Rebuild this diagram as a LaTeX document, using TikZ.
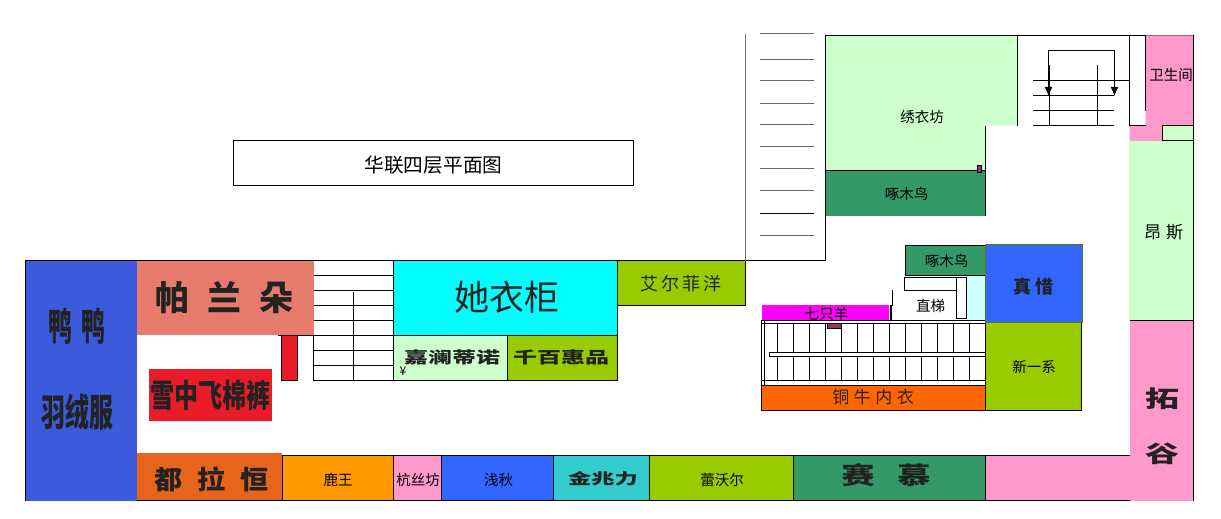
\documentclass[tikz,border=0pt]{standalone}
\usepackage{fontspec}
\usetikzlibrary{arrows.meta}
\setmainfont{Noto Sans CJK SC}
\definecolor{lightgreen}{HTML}{CCFFCC}
\definecolor{leaf}{HTML}{99CC00}
\definecolor{seagreen}{HTML}{339966}
\definecolor{rose}{HTML}{FF99CC}
\definecolor{royal}{HTML}{3366FF}
\definecolor{duckblue}{HTML}{3B5ADC}
\definecolor{salmon}{HTML}{E77C6C}
\definecolor{rust}{HTML}{E8641A}
\definecolor{flag}{HTML}{EA1C2A}
\definecolor{teal}{HTML}{33CCCC}
\definecolor{plum}{HTML}{993366}
\definecolor{ink}{HTML}{222222}
\definecolor{aqua}{HTML}{00FFFF}
\definecolor{fuchsia}{HTML}{FF00FF}
\definecolor{amber}{HTML}{FF9900}
\definecolor{tangerine}{HTML}{FF6600}
\definecolor{pale}{HTML}{CCFFFF}
\newcommand{\squeezed}[2]{\scalebox{#1}[1]{#2}}
\newcommand{\sized}[1]{\fontsize{#1}{#1}\selectfont}
\tikzset{
	wall/.style={line width=1pt, color=black},
	shop/.style={fill=#1, draw=black, line width=1pt},
	tread/.style={line width=1pt, color=black!60},
	small/.style={inner sep=0pt, text=black, font=\sized{14.5}},
	big/.style={inner sep=0pt, text=ink, font=\sized{#1}\bfseries},
	tip/.style={-{Latex[length=9pt, width=8pt]}},
}

\begin{document}
\begin{tikzpicture}[x=1pt, y=-1pt]
	\useasboundingbox (0, 0) rectangle (1221, 519);

	%%%%% title
	\draw[wall] (233, 140.5) rectangle (633, 185.5);
	\node[small, font=\sized{19.7}] (title) at (433.5, 165) {华联四层平面图};

	%%%%% left wing
	\draw[wall] (25.5, 260.5) -- (745, 260.5);
	\fill[duckblue] (25.5, 260.5) rectangle (137, 501);
	\draw[wall] (25.5, 260) -- (25.5, 501);
	\fill[salmon] (137, 261) rectangle (314, 335);
	\draw[wall] (278, 335.5) -- (393, 335.5);
	\draw[shop=flag] (281.5, 335.5) rectangle (297.5, 380.5);
	\fill[flag] (149, 369) rectangle (272, 421);
	\fill[rust] (137, 453) rectangle (282, 500.5);
	\draw[wall] (137, 500.5) -- (282, 500.5);

	\node[big=38] (yaya) at (77, 326.5) {\squeezed{0.63}{鸭\hspace{14pt}鸭}};
	\node[big=38] (yurong) at (77.5, 413) {\squeezed{0.63}{羽绒服}};
	\node[big=34] (palan) at (224.5, 298) {帕\hspace{18pt}兰\hspace{18pt}朵};
	\node[big=32] (xuezhong) at (210, 395) {\squeezed{0.75}{雪中飞棉裤}};
	\node[big=26] (dula) at (211.5, 479) {\squeezed{1.08}{都\hspace{14pt}拉\hspace{14pt}恒}};

	%%%%% stairs beside the red box
	\foreach \y in {275.5, 290.5, 305.5, 320.5, 335.5, 350.5, 365.5, 380.5}
		\draw[wall] (314, \y) -- (393, \y);
	\draw[wall] (313.5, 335) -- (313.5, 380.5);
	\draw[wall] (353.5, 292) -- (353.5, 380.5);

	%%%%% middle shops
	\draw[shop=aqua] (393.5, 260.5) rectangle (617.5, 335.5);
	\draw[shop=lightgreen] (393.5, 335.5) rectangle (507, 380.5);
	\draw[shop=leaf] (507, 335.5) rectangle (617.5, 380.5);
	\draw[shop=leaf] (617.5, 260.5) rectangle (745.5, 305.5);
	\fill[lightgreen] (394, 336) rectangle (507, 380);
	\node[big=35, font=\sized{35}] (tayi) at (507, 297) {她衣柜};
	\node[big=16] (jialan) at (452, 357) {\squeezed{1.5}{嘉澜蒂诺}};
	\node[big=16] (qianbai) at (561, 357) {\squeezed{1.5}{千百惠品}};
	\node[small, font=\sized{12}] (yen) at (403, 371) {¥};
	\node[big=18, font=\sized{18}] (aier) at (681, 284) {艾\hspace{3pt}尔\hspace{3pt}菲\hspace{3pt}洋};

	%%%%% bottom row
	\draw[shop=amber] (282, 455.5) rectangle (393.5, 500.5);
	\draw[shop=rose] (393.5, 455.5) rectangle (441.5, 500.5);
	\draw[shop=royal] (441.5, 455.5) rectangle (553.5, 500.5);
	\draw[shop=teal] (553.5, 455.5) rectangle (649.5, 500.5);
	\draw[shop=leaf] (649.5, 455.5) rectangle (793.5, 500.5);
	\draw[shop=seagreen] (793.5, 455.5) rectangle (985.5, 500.5);
	\fill[rose] (985.5, 456) rectangle (1131, 500);
	\draw[wall] (985.5, 455.5) -- (1131, 455.5);
	\draw[wall] (985.5, 500.5) -- (1131, 500.5);
	\node[small] (luwang) at (338, 480) {鹿王};
	\node[small] (hangsi) at (418, 480) {杭丝坊};
	\node[small] (qianqiu) at (498.5, 480) {浅秋};
	\node[big=15] (jinzhao) at (603, 479) {\squeezed{1.55}{金兆力}};
	\node[small] (leiwo) at (722, 480) {蕾沃尔};
	\node[big=24] (saimu) at (886, 475) {\squeezed{1.4}{赛\hspace{16pt}慕}};

	%%%%% big stairs, upper middle
	\draw[wall, color=black!55] (745.5, 34) -- (745.5, 260.5);
	\draw[wall] (745.5, 260.5) -- (825.5, 260.5) -- (825.5, 35.5);
	\foreach \y in {34, 59.5, 81, 103, 124, 146, 168, 190.5, 235.5}
		\draw[tread] (760, \y) -- (814, \y);
	\draw[wall] (759.5, 213.5) -- (813.5, 213.5);

	%%%%% upper shops
	\fill[lightgreen] (825.5, 35.5) -- (1018, 35.5) -- (1018, 125.5) -- (985.5, 125.5) -- (985.5, 170.5) -- (825.5, 170.5) -- cycle;
	\fill[seagreen] (825.5, 170.5) rectangle (985.5, 216);
	\draw[wall] (825.5, 35.5) -- (1193.5, 35.5);
	\draw[wall] (825.5, 35) -- (825.5, 260.5);
	\draw[wall] (825.5, 170.5) -- (985.5, 170.5);
	\draw[wall] (985.5, 125.5) -- (985.5, 216);
	\draw[wall] (1017.5, 35) -- (1017.5, 125.5);
	\draw[shop=plum] (977.5, 165.5) rectangle (981.5, 172);
	\node[small] (xiuyi) at (922, 117) {绣衣坊};
	\node[small] (zhuomu) at (906.5, 194) {啄木鸟};

	%%%%% stairs at the top right
	\foreach \y in {95.5, 110.5, 125.5}
		\draw[wall] (1033, \y) -- (1114, \y);
	\draw[wall] (1033, 80.5) -- (1129.5, 80.5);
	\draw[wall] (1049.5, 65) -- (1049.5, 125.5);
	\draw[wall] (1097.5, 65) -- (1097.5, 125.5);
	\coordinate (railmid) at (1048.5, 50.5);
	\coordinate (railend) at (1114.5, 50.5);
	\coordinate (tipleft) at (1048.5, 96);
	\coordinate (tipright) at (1114.5, 96);
	\draw[wall, tip] (railmid) -- (tipleft);
	\draw[wall, tip] (railmid) -- (railend) -- (tipright);

	%%%%% right column
	\fill[rose] (1145.5, 35.5) -- (1193.5, 35.5) -- (1193.5, 125.5) -- (1162, 125.5) -- (1162, 141) -- (1129.5, 141) -- (1129.5, 125.5) -- (1145.5, 125.5) -- cycle;
	\draw[wall] (1129.5, 35.5) -- (1129.5, 125.5) -- (1145.5, 125.5);
	\draw[wall] (1145.5, 35.5) -- (1145.5, 111);
	\draw[shop=lightgreen] (1162, 125.5) rectangle (1193.5, 140.5);
	\fill[lightgreen] (1129, 141) rectangle (1193, 320);
	\fill[rose] (1130, 320.5) rectangle (1193, 501);
	\draw[wall] (1129.5, 320.5) -- (1193.5, 320.5);
	\draw[wall] (1193.5, 35) -- (1193.5, 501);
	\node[small] (weisheng) at (1171, 75) {卫生间};
	\node[small, font=\sized{17}] (angsi) at (1163.5, 232) {昂\hspace{5pt}斯};
	\node[big=23] (tuo) at (1163, 399) {\squeezed{1.48}{拓}};
	\node[big=23] (gu) at (1163, 453.5) {\squeezed{1.48}{谷}};

	%%%%% lift
	\draw[shop=seagreen] (905.5, 245.5) rectangle (985.5, 275.5);
	\fill[pale] (967, 276) rectangle (985, 320);
	\draw[wall] (904.5, 277.5) rectangle (956.5, 290.5);
	\draw[wall] (956.5, 277.5) rectangle (966.5, 318.5);
	\draw[line width=1.5pt] (892.5, 290) -- (892.5, 305.5);
	\draw[line width=1.5pt] (891, 305) -- (891, 320);
	\draw[line width=1.5pt] (905, 321) -- (970, 321);
	\node[small] (zhuomutwo) at (946.5, 261) {啄木鸟};
	\node[small] (zhiti) at (930.5, 306) {直梯};

	%%%%% escalator block
	\fill[fuchsia] (762, 305) rectangle (889, 320);
	\node[small] (qizhi) at (826.5, 314) {七只羊};
	\draw[shop=white] (761.5, 320.5) rectangle (985.5, 385.5);
	\draw[wall] (764.5, 320.5) -- (764.5, 385.5);
	\draw[wall] (761.5, 323.5) -- (985.5, 323.5);
	\draw[shop=white] (769.5, 352.5) rectangle (985.5, 356.5);
	\draw[wall] (761.5, 380.5) -- (985.5, 380.5);
	\foreach \k in {0, ..., 12} {
		\draw[wall] ({777.5+16*\k}, 323.5) -- ({777.5+16*\k}, 352.5);
		\draw[wall] ({777.5+16*\k}, 356.5) -- ({777.5+16*\k}, 380.5);
	}
	\draw[shop=plum] (827.5, 323.5) rectangle (841, 328.5);
	\draw[shop=tangerine] (761.5, 385.5) rectangle (985.5, 410.5);
	\node[big=17, font=\sized{17}] (tongniu) at (873, 397.5) {铜\hspace{4.5pt}牛\hspace{4.5pt}内\hspace{4.5pt}衣};

	%%%%% the two shops on the right of the block
	\draw[shop=leaf] (985.5, 322) rectangle (1081.5, 410.5);
	\node[small] (xinyi) at (1034, 367) {新一系};
	\draw[fill=royal, draw=leaf!60!black, line width=1pt] (985, 244.5) rectangle (1082.5, 322);
	\node[big=18] (zhenxi) at (1033, 287) {真\hspace{4pt}惜};
\end{tikzpicture}
\end{document}
